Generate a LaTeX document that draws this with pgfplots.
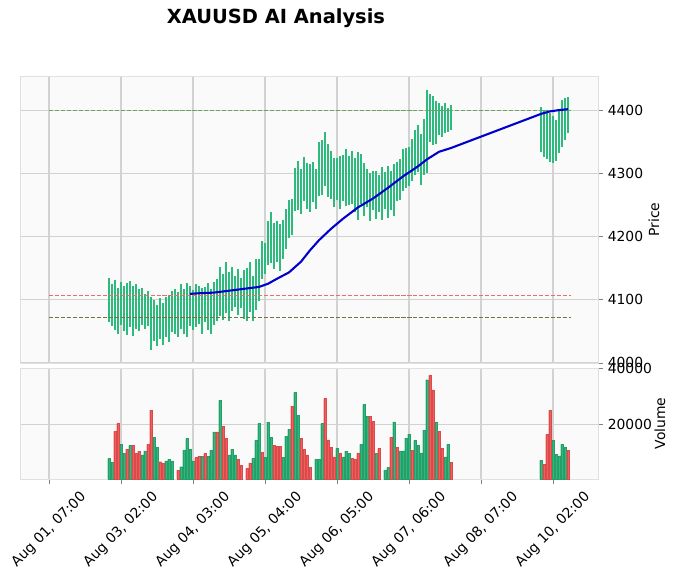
\documentclass[border=0pt]{standalone}
\usepackage{pgfplots}
\pgfplotsset{compat=1.18}
\usepackage{pgfplotstable}
\usepackage{fontspec}
\setmainfont{DejaVu Sans}

\definecolor{upc}{RGB}{46,185,125}
\definecolor{dnc}{RGB}{250,90,90}
\definecolor{bgc}{RGB}{250,250,250}
\definecolor{gridc}{RGB}{210,210,210}
\definecolor{mac}{RGB}{0,0,205}
\definecolor{lvlg}{RGB}{110,160,100}
\definecolor{lvlr}{RGB}{225,115,100}
\definecolor{lvlo}{RGB}{120,115,60}

% hourly candles, x = bar index (24 bars between ticks)
\pgfplotstableread{
x lo hi
20 4064 4134
21 4058 4124
22 4052 4131
23 4046 4118
24 4060 4128
25 4050 4122
26 4044 4127
27 4056 4130
28 4042 4121
29 4053 4125
30 4050 4116
31 4060 4118
32 4054 4108
33 4058 4113
34 4020 4104
35 4034 4099
36 4026 4092
37 4038 4102
38 4028 4094
39 4040 4104
40 4032 4106
41 4048 4114
42 4046 4117
43 4040 4112
44 4054 4125
45 4046 4116
46 4040 4126
47 4058 4121
48 4052 4115
49 4056 4124
50 4062 4121
51 4046 4118
52 4064 4120
53 4052 4127
54 4046 4117
55 4060 4128
56 4066 4132
57 4074 4152
58 4068 4140
59 4078 4160
60 4066 4144
61 4082 4152
62 4088 4138
63 4076 4149
64 4086 4134
65 4070 4147
66 4066 4150
67 4080 4160
68 4066 4138
69 4084 4165
70 4098 4164
71 4132 4192
72 4140 4190
73 4154 4224
74 4158 4238
75 4148 4222
76 4160 4224
77 4146 4220
78 4164 4226
79 4180 4243
80 4198 4258
81 4202 4260
82 4240 4308
83 4242 4320
84 4236 4306
85 4256 4326
86 4244 4316
87 4238 4314
88 4254 4318
89 4244 4306
90 4264 4350
91 4266 4352
92 4280 4366
93 4262 4346
94 4260 4336
95 4246 4324
96 4258 4324
97 4244 4328
98 4256 4329
99 4248 4338
100 4250 4328
101 4252 4336
102 4238 4324
103 4226 4333
104 4252 4330
105 4232 4316
106 4246 4307
107 4224 4300
108 4242 4303
109 4228 4304
110 4238 4298
111 4226 4310
112 4244 4302
113 4229 4312
114 4242 4304
115 4233 4314
116 4256 4318
117 4258 4322
118 4272 4338
119 4276 4340
120 4280 4342
121 4287 4354
122 4298 4368
123 4302 4376
124 4282 4362
125 4298 4386
126 4300 4432
127 4350 4426
128 4344 4422
129 4346 4414
130 4360 4412
131 4358 4406
132 4364 4411
133 4366 4403
134 4368 4408
164 4334 4405
165 4326 4400
166 4322 4398
167 4318 4395
168 4316 4390
169 4320 4384
170 4332 4400
171 4341 4416
172 4353 4419
173 4364 4421
}\candles

\pgfplotstableread{
x ma
47 4109
50 4110
55 4111
60 4114
65 4117
70 4120
73 4125
76 4133
80 4143
84 4160
87 4178
90 4194
94 4212
98 4228
103 4246
108 4260
113 4277
118 4295
123 4311
126 4322
130 4334
134 4340
164 4394
167 4398
170 4400
173 4401.5
}\matable

\pgfplotstableread{
x v
20 7600
21 6400
24 12700
25 9400
27 12400
31 9000
32 10400
35 15200
36 11600
39 6800
40 7300
41 6800
44 4700
45 10600
46 14800
47 10900
48 6800
51 8400
53 8400
54 10600
55 17200
57 28500
60 9000
61 10900
62 9000
68 7700
69 14200
70 20200
72 8000
73 20700
74 15200
78 8000
79 15600
80 18100
82 31300
83 23100
89 7300
90 7300
91 20200
96 11200
98 8200
99 10300
100 9400
104 12700
105 27000
106 22800
109 9400
112 3500
113 4400
115 20800
117 10400
118 10400
119 15000
120 16400
122 14200
123 12400
124 9700
125 17800
126 35900
129 20800
132 8200
133 12700
164 7000
168 14200
169 9200
170 8600
171 12700
172 11800
}\volup

\pgfplotstableread{
x v
22 17400
23 20200
26 11000
28 12400
29 9500
30 10300
33 12700
34 25000
37 6500
38 6000
43 3500
49 8000
50 8400
52 9400
56 17200
58 19200
59 14800
63 7300
64 5300
66 4100
67 6100
71 9800
75 12400
76 12000
77 12000
81 26400
84 14800
85 10900
86 9000
87 4400
92 29100
93 14300
94 11700
95 8200
97 9700
101 7650
102 7300
103 9700
107 22800
108 21100
110 11200
114 15300
116 11600
121 10600
127 37500
128 32300
130 17500
131 11200
134 6400
165 5600
166 16200
167 25000
173 10600
}\voldn

\pgfplotsset{
  panel/.style={
    scale only axis,
    width=416.16pt,
    xmin=-9.67, xmax=183,
    xtick={0,24,...,168},
    axis background/.style={fill=bgc},
    axis line style={draw=black!12},
    grid=major,
    major grid style={draw=gridc, line width=0.8pt},
    tick align=outside,
    major tick length=3.5pt,
    ytick pos=right,
    yticklabel pos=right,
    ylabel near ticks,
    tick label style={font=\fontsize{10}{12}\selectfont},
    label style={font=\fontsize{10}{12}\selectfont},
    /pgf/number format/assume math mode=true,
    /pgf/number format/1000 sep={},
    scaled y ticks=false,
    clip=true,
  },
}

\begin{document}
\begin{tikzpicture}
\path[use as bounding box] (0,0) rectangle (488.88pt,-416.16pt);
\node[font=\fontsize{14}{17}\selectfont\bfseries] at (198.7pt,-13pt) {XAUUSD AI Analysis};

\begin{axis}[panel,
  at={(14.4pt,-261.36pt)}, anchor=south west,
  height=206.64pt,
  ymin=3999.5, ymax=4454,
  ytick={4000,4100,...,4400},
  xticklabels={},
  xtick style={/pgfplots/major tick length=0pt},
  ylabel={Price},
  ylabel shift=-3pt,
]
\addplot[draw=none, mark=none, forget plot,
  error bars/.cd, y dir=both, y explicit, error mark=none,
  error bar style={draw=upc, line width=1.9pt}]
  table[x=x, y expr={(\thisrow{lo}+\thisrow{hi})/2},
        y error expr={(\thisrow{hi}-\thisrow{lo})/2}] {\candles};
\addplot[lvlg, line width=0.7pt, dash pattern=on 3pt off 1.3pt] coordinates {(0,4400) (174,4400)};
\addplot[lvlr, line width=0.7pt, dash pattern=on 3pt off 1.3pt] coordinates {(0,4107) (174,4107)};
\addplot[lvlo, line width=0.7pt, dash pattern=on 3pt off 1.3pt] coordinates {(0,4071) (174,4071)};
\addplot[mac, line width=1.5pt] table[x=x, y=ma] {\matable};
\end{axis}

\begin{axis}[panel,
  at={(14.4pt,-344.88pt)}, anchor=south west,
  height=79.92pt,
  ymin=300, ymax=40100,
  ytick={20000,40000},
  xtick pos=bottom,
  xticklabels={{Aug 01, 07:00},{Aug 03, 02:00},{Aug 04, 03:00},{Aug 05, 04:00},{Aug 06, 05:00},{Aug 07, 06:00},{Aug 08, 07:00},{Aug 10, 02:00}},
  xticklabel style={anchor=center, yshift=-33pt, rotate=45},
  ylabel={Volume},
  ylabel shift=-5pt,
]
\addplot[ybar, bar width=0.85, bar shift=0pt, fill=upc, draw=upc!85!black, line width=0.3pt] table[x=x, y=v] {\volup};
\addplot[ybar, bar width=0.85, bar shift=0pt, fill=dnc, draw=dnc!85!black, line width=0.3pt] table[x=x, y=v] {\voldn};
\end{axis}
\end{tikzpicture}
\end{document}
